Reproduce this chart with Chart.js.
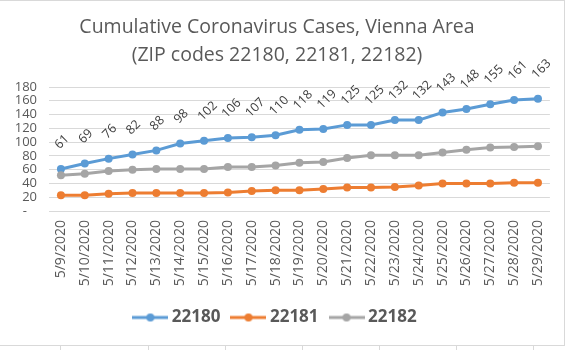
<!DOCTYPE html>
<html lang="en">
<head>
    <meta charset="UTF-8">
    <title>Cumulative Coronavirus Cases, Vienna Area</title>
    <script src="https://cdn.jsdelivr.net/npm/chart.js"></script>
    <style>
        body { margin: 0; background: #fff; width: 573px; height: 350px; overflow: hidden; position: relative; }
        .chart-box { position: absolute; left: 0; top: 0; width: 565px; height: 346px; border: 1px solid #d9d9d9; border-left: none; box-sizing: border-box; }
        .chart-box canvas { display: block; }
        .cell-line { position: absolute; top: 346px; width: 1px; height: 6px; background: #d9d9d9; }
    </style>
</head>
<body>
    <div class="chart-box">
        <canvas id="casesChart" width="564" height="344"></canvas>
    </div>
    <div class="cell-line" style="left:60px"></div>
    <div class="cell-line" style="left:148px"></div>
    <div class="cell-line" style="left:225px"></div>
    <div class="cell-line" style="left:302px"></div>
    <div class="cell-line" style="left:379px"></div>
    <div class="cell-line" style="left:456px"></div>
    <div class="cell-line" style="left:533px"></div>

    <script>
        const fechas = ['5/9/2020', '5/10/2020', '5/11/2020', '5/12/2020', '5/13/2020', '5/14/2020', '5/15/2020',
            '5/16/2020', '5/17/2020', '5/18/2020', '5/19/2020', '5/20/2020', '5/21/2020', '5/22/2020',
            '5/23/2020', '5/24/2020', '5/25/2020', '5/26/2020', '5/27/2020', '5/28/2020', '5/29/2020'];
        const zip22180 = [61, 69, 76, 82, 88, 98, 102, 106, 107, 110, 118, 119, 125, 125, 132, 132, 143, 148, 155, 161, 163];
        const zip22181 = [23, 23, 25, 26, 26, 26, 26, 27, 29, 30, 30, 32, 34, 34, 35, 37, 40, 40, 40, 41, 41];
        const zip22182 = [52, 54, 58, 60, 61, 61, 61, 64, 64, 66, 70, 71, 77, 81, 81, 81, 85, 89, 92, 93, 94];
        const yTicks = [0, 20, 40, 60, 80, 100, 120, 140, 160, 180];

        const FONT = "'Open Sans', 'Liberation Sans', sans-serif";
        const TEXT = '#595959';

        // linea con punto para la leyenda, estilo Excel
        function legendImg(color) {
            const c = document.createElement('canvas');
            c.width = 36; c.height = 10;
            const g = c.getContext('2d');
            g.strokeStyle = color; g.lineWidth = 3;
            g.beginPath(); g.moveTo(0, 5); g.lineTo(36, 5); g.stroke();
            g.fillStyle = color;
            g.beginPath(); g.arc(18, 5, 4, 0, Math.PI * 2); g.fill();
            return c;
        }

        // etiquetas giradas sobre la serie 22180
        const etiquetasPlugin = {
            id: 'etiquetas',
            afterDatasetsDraw(chart) {
                const meta = chart.getDatasetMeta(0);
                const ctx = chart.ctx;
                ctx.save();
                ctx.font = '12.5px ' + FONT;
                ctx.fillStyle = '#404040';
                ctx.textAlign = 'left';
                ctx.textBaseline = 'middle';
                meta.data.forEach((pt, i) => {
                    ctx.save();
                    ctx.translate(pt.x - 4, pt.y - 22);
                    ctx.rotate(-Math.PI / 4);
                    ctx.fillText(String(zip22180[i]), 0, 0);
                    ctx.restore();
                });
                ctx.restore();
            }
        };

        function serie(label, data, color, order) {
            return {
                label: label,
                data: data,
                borderColor: color,
                backgroundColor: color,
                borderWidth: 3,
                pointRadius: 4,
                pointBorderWidth: 0,
                pointBackgroundColor: color,
                tension: 0,
                order: order
            };
        }

        const ctx = document.getElementById('casesChart').getContext('2d');
        new Chart(ctx, {
            type: 'line',
            data: {
                labels: fechas,
                datasets: [
                    serie('22180', zip22180, '#5B9BD5', 3),
                    serie('22181', zip22181, '#ED7D31', 2),
                    serie('22182', zip22182, '#A5A5A5', 1)
                ]
            },
            options: {
                responsive: false,
                animation: false,
                layout: { padding: { top: 0, right: 10, bottom: 9, left: 0 } },
                scales: {
                    x: {
                        offset: true,
                        grid: { display: false, drawTicks: false },
                        border: { display: true, color: '#d9d9d9' },
                        ticks: {
                            minRotation: 90, maxRotation: 90, autoSkip: false, padding: 9,
                            color: TEXT, font: { family: FONT, size: 14 }
                        },
                        afterFit(scale) { scale.height = 83; }
                    },
                    y: {
                        min: 0, max: 180,
                        afterBuildTicks(scale) { scale.ticks = yTicks.map(v => ({ value: v })); },
                        grid: { color: '#d9d9d9', drawTicks: false },
                        border: { display: false },
                        ticks: {
                            autoSkip: false,
                            padding: 12, color: TEXT, font: { family: FONT, size: 13 },
                            callback: v => v === 0 ? '-   ' : v
                        },
                        afterFit(scale) { scale.width = 49; }
                    }
                },
                plugins: {
                    title: {
                        display: true,
                        text: ['Cumulative Coronavirus Cases, Vienna Area', '(ZIP codes 22180, 22181, 22182)'],
                        color: TEXT,
                        font: { family: FONT, size: 19.5, weight: 'normal', lineHeight: 28 / 19.5 },
                        padding: { top: 12, bottom: 18 }
                    },
                    legend: {
                        position: 'bottom',
                        labels: {
                            usePointStyle: true,
                            pointStyleWidth: 26,
                            padding: 15,
                            color: TEXT,
                            font: { family: FONT, size: 17, weight: 'bold' },
                            sort: (a, b) => a.datasetIndex - b.datasetIndex,
                            generateLabels(chart) {
                                const items = Chart.defaults.plugins.legend.labels.generateLabels(chart);
                                items.forEach(it => {
                                    it.pointStyle = legendImg(chart.data.datasets[it.datasetIndex].borderColor);
                                });
                                return items;
                            }
                        }
                    },
                    tooltip: { enabled: false }
                }
            },
            plugins: [etiquetasPlugin]
        });
    </script>
</body>
</html>
